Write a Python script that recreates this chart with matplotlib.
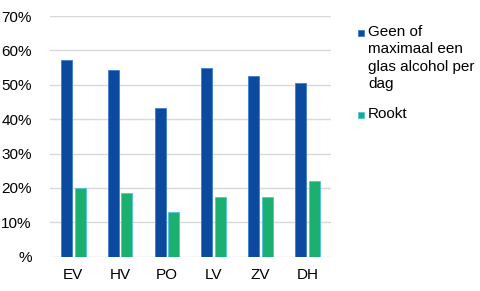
import matplotlib.pyplot as plt
import numpy as np
from matplotlib.patches import Rectangle

# Data
categories = ["EV", "HV", "PO", "LV", "ZV", "DH"]
alcohol = [57.1, 54.4, 43.2, 54.8, 52.5, 50.6]
rookt = [20.1, 18.6, 13.0, 17.4, 17.4, 21.9]
series_labels = ["Geen of\nmaximaal een\nglas alcohol per\ndag", "Rookt"]
yticks = [0, 10, 20, 30, 40, 50, 60, 70]
ytick_labels = ["%"] + [f"{v}%" for v in yticks[1:]]

blue = "#0B4A9E"
green = "#1BB06F"
blue_edge = "#3D7FD0"
green_edge = "#4FC3E8"

plt.rcParams['font.family'] = ['Liberation Sans', 'DejaVu Sans']

W, H = 480, 291
fig = plt.figure(figsize=(W / 100, H / 100), dpi=100)
ax = fig.add_axes([0.104, 0.118, 0.585, 0.827])

x = np.arange(len(categories))
w = 0.235
ax.bar(x - 0.145, alcohol, w, color=blue, edgecolor=blue_edge, linewidth=0.6, zorder=3)
ax.bar(x + 0.145, rookt, w, color=green, edgecolor=green_edge, linewidth=0.6, zorder=3)

ax.set_xlim(-0.5, len(categories) - 0.5)
ax.set_ylim(0, 70)
ax.set_yticks(yticks)
ax.set_yticklabels(ytick_labels)
ax.set_xticks(x)
ax.set_xticklabels(categories)
ax.tick_params(axis="both", length=0, labelsize=11, colors="#000000")
ax.tick_params(axis="x", pad=8)
ax.tick_params(axis="y", pad=13)
ax.grid(axis="y", color="#D9D9D9", linewidth=1, zorder=0)
for s in ax.spines.values():
    s.set_visible(False)

# legend drawn by hand: square next to the first line of each label
def px(xp, yp):
    return xp / W, 1 - yp / H

legend_items = [(series_labels[0], blue, blue_edge, 33),
                (series_labels[1], green, green_edge, 115)]
for label, fc, ec, yc in legend_items:
    x0, y0 = px(358, yc + 3)
    fig.add_artist(Rectangle((x0, y0), 6 / W, 6 / H, transform=fig.transFigure,
                             facecolor=fc, edgecolor=ec, linewidth=0.6))
    tx, ty = px(368, yc - 8)
    fig.text(tx, ty, label, fontsize=11, va="top", ha="left", linespacing=1.3)

fig.savefig("out.png", dpi=100)
